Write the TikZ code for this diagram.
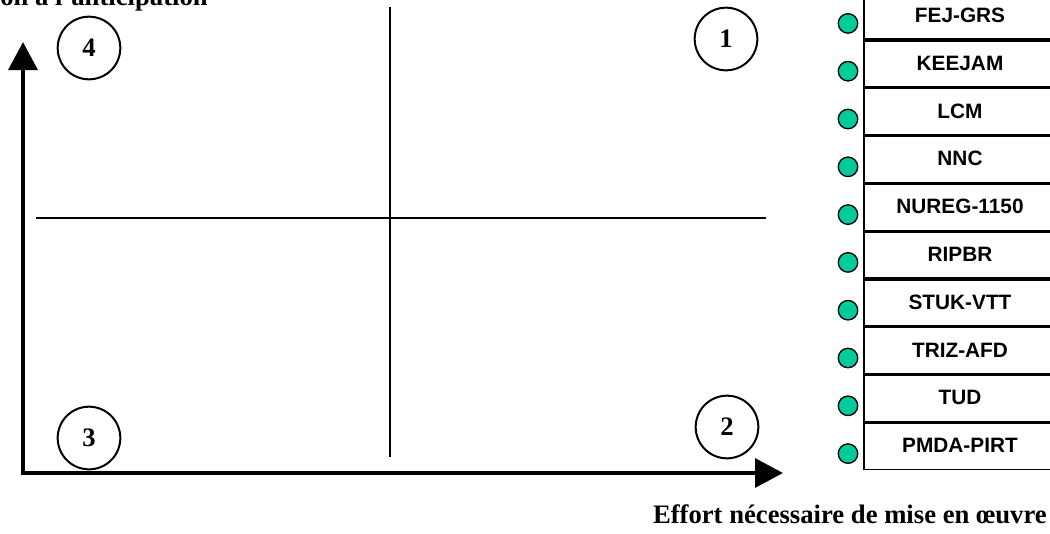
\documentclass[tikz,border=0pt]{standalone}
\usepackage{fontspec}
\setmainfont{Liberation Serif}
\newfontfamily\arialfont{Liberation Sans}
\usetikzlibrary{positioning, arrows.meta}
\definecolor{tealgreen}{RGB}{0,204,153}

\begin{document}
\begin{tikzpicture}[x=0.75pt, y=-0.75pt]
        \tikzstyle{quadrant}=[circle, draw=black, line width=1.5pt, minimum size=47pt, inner sep=0pt, font=\fontsize{20}{24}\selectfont\bfseries];
        \tikzstyle{method}=[rectangle, draw=black, line width=1.3pt, minimum width=144pt, minimum height=35.85pt, inner sep=0pt, font=\arialfont\fontsize{15.6}{18}\selectfont\bfseries];
        \tikzstyle{dot}=[circle, draw=black, fill=tealgreen, line width=1pt, minimum size=14.6pt, inner sep=0pt];
        \tikzstyle{axislabel}=[inner sep=0pt, font=\fontsize{20}{24}\selectfont\bfseries];

        \clip (0, 0) rectangle (1050, 533);

        % axes
        \coordinate (ytip) at (23, 42);
        \coordinate (origin) at (23, 473);
        \coordinate (xtip) at (783, 473);
        \draw[line width=3.4pt, {Triangle[length=21pt, width=21.5pt]}-{Triangle[length=21pt, width=21.5pt]}] (ytip) -- (origin) -- (xtip);

        \node[axislabel, anchor=base west] (ylabel) at (0, 5) {on à l'anticipation};
        \node[axislabel, anchor=base east] (xlabel) at (1047, 523) {Effort nécessaire de mise en œuvre};

        % quadrants
        \coordinate (vtop) at (390, 7);
        \coordinate (vbot) at (390, 457);
        \coordinate (hleft) at (36, 218);
        \coordinate (hright) at (766, 218);
        \draw[line width=1.2pt] (vtop) -- (vbot);
        \draw[line width=1.4pt] (hleft) -- (hright);

        \node[quadrant] (1) at (726, 39) {1};
        \node[quadrant] (2) at (727, 427) {2};
        \node[quadrant] (3) at (89, 438) {3};
        \node[quadrant] (4) at (89, 48) {4};

        % methods
        \node[method] (r1) at (960, 15.4) {FEJ-GRS};
        \node[method] (r2) at (960, 63.2) {KEEJAM};
        \node[method] (r3) at (960, 111.0) {LCM};
        \node[method] (r4) at (960, 158.8) {NNC};
        \node[method] (r5) at (960, 206.6) {NUREG-1150};
        \node[method] (r6) at (960, 254.4) {RIPBR};
        \node[method] (r7) at (960, 302.2) {STUK-VTT};
        \node[method] (r8) at (960, 350.0) {TRIZ-AFD};
        \node[method] (r9) at (960, 397.8) {TUD};
        \node[method] (r10) at (960, 445.6) {PMDA-PIRT};

        \draw[line width=2pt] (r1.south west) -- (r1.south east);
        \draw[line width=2pt] (r2.south west) -- (r2.south east);
        \draw[line width=2pt] (r3.south west) -- (r3.south east);
        \draw[line width=2pt] (r4.south west) -- (r4.south east);
        \draw[line width=2pt] (r5.south west) -- (r5.south east);
        \draw[line width=2pt] (r6.south west) -- (r6.south east);
        \draw[line width=2pt] (r7.south west) -- (r7.south east);
        \draw[line width=2pt] (r8.south west) -- (r8.south east);
        \draw[line width=2pt] (r9.south west) -- (r9.south east);

        \node[dot] (g1) at (848, 23.4) {};
        \node[dot] (g2) at (848, 71.2) {};
        \node[dot] (g3) at (848, 119.0) {};
        \node[dot] (g4) at (848, 166.8) {};
        \node[dot] (g5) at (848, 214.6) {};
        \node[dot] (g6) at (848, 262.4) {};
        \node[dot] (g7) at (848, 310.2) {};
        \node[dot] (g8) at (848, 358.0) {};
        \node[dot] (g9) at (848, 405.8) {};
        \node[dot] (g10) at (848, 453.6) {};
\end{tikzpicture}
\end{document}
